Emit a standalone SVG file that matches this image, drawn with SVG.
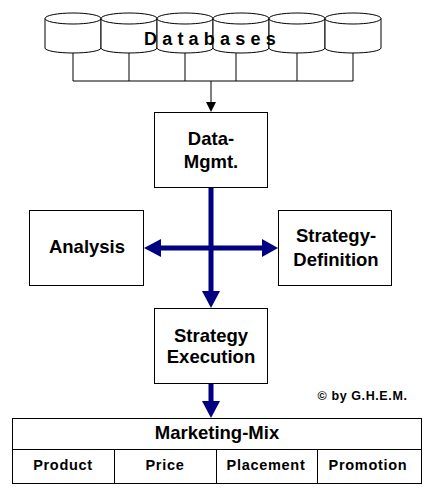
<svg xmlns="http://www.w3.org/2000/svg" width="432" height="495" viewBox="0 0 432 495">
<style>
.box{fill:#fff;stroke:#000;stroke-width:1}
.cyl{fill:#fff;stroke:#000;stroke-width:1}
.thin{fill:none;stroke:#000;stroke-width:1}
.blue{fill:none;stroke:#000080;stroke-width:5}
.t{font-family:"Liberation Sans",Arial,sans-serif;font-weight:bold;fill:#000;text-anchor:middle}
.big{font-size:18.5px}
.small{font-size:14.5px;letter-spacing:0.7px}
</style>
<defs>
<path id="cy" d="M0,18.5 A28,5.5 0 0 1 56,18.5 L56,48 A28,5 0 0 1 0,48 Z M0,18.5 A28,5.5 0 0 0 56,18.5"/>
</defs>
<rect width="432" height="495" fill="#fff"/>
<g id="databases">
<use href="#cy" x="45" class="cyl"/>
<use href="#cy" x="101" class="cyl"/>
<use href="#cy" x="157" class="cyl"/>
<use href="#cy" x="213" class="cyl"/>
<use href="#cy" x="269" class="cyl"/>
<use href="#cy" x="325" class="cyl"/>
<text x="144" y="45" font-family="Liberation Sans,Arial,sans-serif" font-weight="bold" font-size="18" letter-spacing="5.2">Databases</text>
</g>
<g id="connectors">
<path class="thin" d="M73,53V81M129,53V81M185,53V81M236,53V81M297,53V81M353,53V81M73,81H353M211,81V103"/>
<polygon points="206,102 216,102 211,112" fill="#000"/>
<path class="blue" d="M211,187V292M160,248H263"/>
<polygon points="202,291 220,291 211,308" fill="#000080"/>
<polygon points="161,239 161,257 144,248" fill="#000080"/>
<polygon points="262,239 262,257 278,248" fill="#000080"/>
<path class="blue" d="M211,383V402"/>
<polygon points="202,401 220,401 211,418" fill="#000080"/>
</g>
<g id="datamgmt">
<rect class="box" x="154.5" y="112.5" width="113" height="75"/>
<text class="t big" x="211" y="145">Data-</text>
<text class="t big" x="211" y="168">Mgmt.</text>
</g>
<g id="analysis">
<rect class="box" x="29.5" y="210.5" width="114" height="75"/>
<text class="t big" x="87" y="253">Analysis</text>
</g>
<g id="strategydef">
<rect class="box" x="278.5" y="210.5" width="113" height="75"/>
<text class="t big" x="336" y="242">Strategy-</text>
<text class="t big" x="336" y="266">Definition</text>
</g>
<g id="strategyexec">
<rect class="box" x="154.5" y="308.5" width="113" height="75"/>
<text class="t big" x="211" y="342">Strategy</text>
<text class="t big" x="211" y="363">Execution</text>
</g>
<g id="copyright">
<text class="t" x="362.5" y="400" font-size="12.5" letter-spacing="0.6">© by G.H.E.M.</text>
</g>
<g id="marketingmix">
<rect class="box" x="12.5" y="418.5" width="409" height="65"/>
<path class="thin" d="M12.5,449.5H421.5M114.5,449.5V483.5M216.5,449.5V483.5M317.5,449.5V483.5"/>
<text class="t big" x="217" y="439">Marketing-Mix</text>
<text class="t small" x="63" y="470">Product</text>
<text class="t small" x="165" y="470">Price</text>
<text class="t small" x="266" y="470">Placement</text>
<text class="t small" x="368" y="470">Promotion</text>
</g>
</svg>
